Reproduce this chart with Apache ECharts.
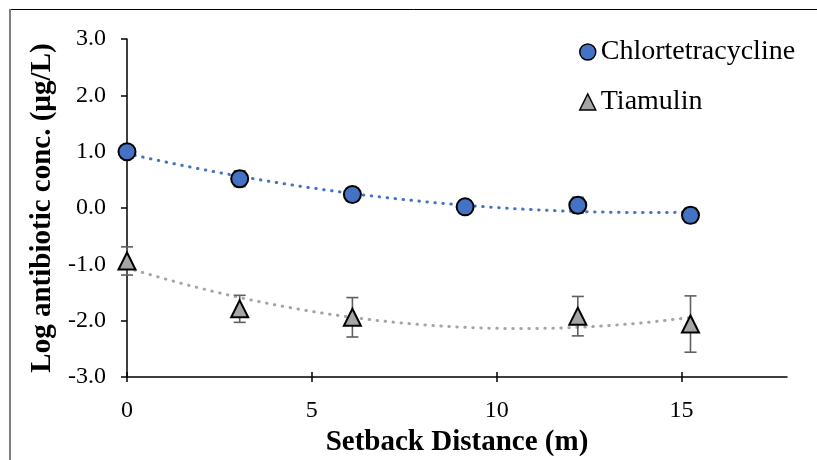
<!DOCTYPE html>
<html>
<head>
<meta charset="utf-8">
<script src="https://cdn.jsdelivr.net/npm/echarts@6/dist/echarts.min.js"></script>
<style>
html,body{margin:0;padding:0;background:#fff;}
#chart{width:817px;height:460px;}
</style>
</head>
<body>
<div id="chart"></div>
<script>
// ---- data ----
const ctcX = [0, 3.048, 6.096, 9.144, 12.192, 15.24];
const ctcValues = [1.00, 0.52, 0.24, 0.02, 0.05, -0.13];
const ctcErrors = [0.08, 0.14, 0.12, 0.12, 0.14, 0.13];

const tiaX = [0, 3.048, 6.096, 12.192, 15.24];
const tiaValues = [-0.94, -1.79, -1.94, -1.92, -2.06];
const tiaErrors = [0.25, 0.24, 0.35, 0.35, 0.50];

const xTickValues = [0, 5, 10, 15];
const seriesNames = ['Chlortetracycline', 'Tiamulin'];
const xTitle = 'Setback Distance (m)';
const yTitle = 'Log antibiotic conc. (µg/L)';

// ---- 2nd-order polynomial least-squares trendline (as in the source chart) ----
function polyfit2(xs, ys) {
  let n = xs.length, s1 = 0, s2 = 0, s3 = 0, s4 = 0, sy = 0, sxy = 0, sx2y = 0;
  for (let i = 0; i < n; i++) {
    const x = xs[i], y = ys[i];
    s1 += x; s2 += x * x; s3 += x * x * x; s4 += x * x * x * x;
    sy += y; sxy += x * y; sx2y += x * x * y;
  }
  const M = [[n, s1, s2], [s1, s2, s3], [s2, s3, s4]];
  const B = [sy, sxy, sx2y];
  const det3 = m => m[0][0] * (m[1][1] * m[2][2] - m[1][2] * m[2][1])
    - m[0][1] * (m[1][0] * m[2][2] - m[1][2] * m[2][0])
    + m[0][2] * (m[1][0] * m[2][1] - m[1][1] * m[2][0]);
  const D = det3(M);
  const coef = [0, 1, 2].map(k => {
    const Mk = M.map((row, r) => row.map((v, c) => (c === k ? B[r] : v)));
    return det3(Mk) / D;
  });
  return coef; // a + b x + c x^2
}
function trendPoints(xs, ys) {
  const [a, b, c] = polyfit2(xs, ys);
  const x0 = xs[0], x1 = xs[xs.length - 1];
  const pts = [];
  const N = 120;
  for (let i = 0; i <= N; i++) {
    const x = x0 + (x1 - x0) * i / N;
    pts.push([x, a + b * x + c * x * x]);
  }
  return pts;
}

const ctcData = ctcX.map((x, i) => [x, ctcValues[i]]);
const tiaData = tiaX.map((x, i) => [x, tiaValues[i]]);
const ctcErr = ctcX.map((x, i) => [x, ctcValues[i] - ctcErrors[i], ctcValues[i] + ctcErrors[i]]);
const tiaErr = tiaX.map((x, i) => [x, tiaValues[i] - tiaErrors[i], tiaValues[i] + tiaErrors[i]]);

function errorRender(params, api) {
  const x = api.value(0), lo = api.value(1), hi = api.value(2);
  const pHi = api.coord([x, hi]);
  const pLo = api.coord([x, lo]);
  const w = 6;
  const style = { stroke: '#5f5f5f', lineWidth: 1.6, fill: null };
  return {
    type: 'group',
    children: [
      { type: 'line', shape: { x1: pHi[0], y1: pHi[1], x2: pLo[0], y2: pLo[1] }, style },
      { type: 'line', shape: { x1: pHi[0] - w, y1: pHi[1], x2: pHi[0] + w, y2: pHi[1] }, style },
      { type: 'line', shape: { x1: pLo[0] - w, y1: pLo[1], x2: pLo[0] + w, y2: pLo[1] }, style }
    ]
  };
}

const FONT = 'Liberation Serif';
const chart = echarts.init(document.getElementById('chart'), null, { renderer: 'canvas' });

const option = {
  backgroundColor: '#ffffff',
  animation: false,
  grid: { left: 127, right: 30, top: 39, bottom: 83, containLabel: false, outerBoundsMode: 'none' },
  graphic: [
    { type: 'line', shape: { x1: 10, y1: 9.5, x2: 817, y2: 9.5 }, style: { stroke: '#000', lineWidth: 1 }, z: 100 },
    { type: 'line', shape: { x1: 10, y1: 9, x2: 10, y2: 460 }, style: { stroke: '#808080', lineWidth: 2 }, z: 100 }
  ],
  legend: {
    orient: 'vertical',
    left: 574,
    top: 33,
    itemWidth: 16,
    itemHeight: 16,
    itemGap: 22,
    textStyle: { fontFamily: FONT, fontSize: 28, color: '#000' },
    data: [
      { name: seriesNames[0], icon: 'circle', itemStyle: { color: '#4472C4', borderColor: '#000', borderWidth: 1.5 } },
      { name: seriesNames[1], icon: 'triangle', itemStyle: { color: '#A5A5A5', borderColor: '#000', borderWidth: 1.5 } }
    ]
  },
  xAxis: [
    {
      type: 'value', min: 0, max: 17.85,
      name: xTitle, nameLocation: 'middle', nameGap: 51,
      nameTextStyle: { fontFamily: FONT, fontSize: 29, fontWeight: 'bold', color: '#000' },
      axisLine: { onZero: false, lineStyle: { color: '#000', width: 1.5 } },
      axisTick: { show: true, length: 5, customValues: xTickValues, lineStyle: { color: '#000', width: 1.5 } },
      axisLabel: { customValues: xTickValues, margin: 22, fontFamily: FONT, fontSize: 24, color: '#000' },
      splitLine: { show: false }
    },
    {
      type: 'value', min: 0, max: 17.85, position: 'bottom',
      axisLine: { show: false, onZero: false },
      axisTick: { show: true, inside: true, length: 5, customValues: xTickValues, lineStyle: { color: '#000', width: 1.5 } },
      axisLabel: { show: false },
      splitLine: { show: false }
    }
  ],
  yAxis: {
    type: 'value', min: -3, max: 3, interval: 1,
    name: yTitle, nameLocation: 'middle', nameGap: 70, nameRotate: 90,
    nameTextStyle: { fontFamily: FONT, fontSize: 29, fontWeight: 'bold', color: '#000' },
    axisLine: { show: true, onZero: false, lineStyle: { color: '#000', width: 1.5 } },
    axisTick: { show: true, length: 6, lineStyle: { color: '#000', width: 1.5 } },
    axisLabel: { margin: 21, fontFamily: FONT, fontSize: 24, color: '#000', formatter: v => v.toFixed(1) },
    splitLine: { show: false }
  },
  series: [
    {
      name: 'ctcTrend', type: 'line', data: trendPoints(ctcX, ctcValues), showSymbol: false, symbol: 'none',
      lineStyle: { color: '#4472C4', width: 3, type: [0.5, 7.5], cap: 'round' }, z: 1, silent: true
    },
    {
      name: 'tiaTrend', type: 'line', data: trendPoints(tiaX, tiaValues), showSymbol: false, symbol: 'none',
      lineStyle: { color: '#A5A5A5', width: 3, type: [0.5, 7.5], cap: 'round' }, z: 1, silent: true
    },
    { name: 'ctcErr', type: 'custom', renderItem: errorRender, data: ctcErr, encode: { x: 0, y: [1, 2] }, z: 2 },
    { name: 'tiaErr', type: 'custom', renderItem: errorRender, data: tiaErr, encode: { x: 0, y: [1, 2] }, z: 2 },
    {
      name: seriesNames[0], type: 'scatter', data: ctcData, symbol: 'circle', symbolSize: 17,
      itemStyle: { color: '#4472C4', borderColor: '#000', borderWidth: 2, opacity: 1 }, z: 3
    },
    {
      name: seriesNames[1], type: 'scatter', data: tiaData, symbol: 'triangle', symbolSize: 17,
      itemStyle: { color: '#A5A5A5', borderColor: '#000', borderWidth: 2, opacity: 1 }, z: 3
    }
  ]
};
chart.setOption(option);
</script>
</body>
</html>
